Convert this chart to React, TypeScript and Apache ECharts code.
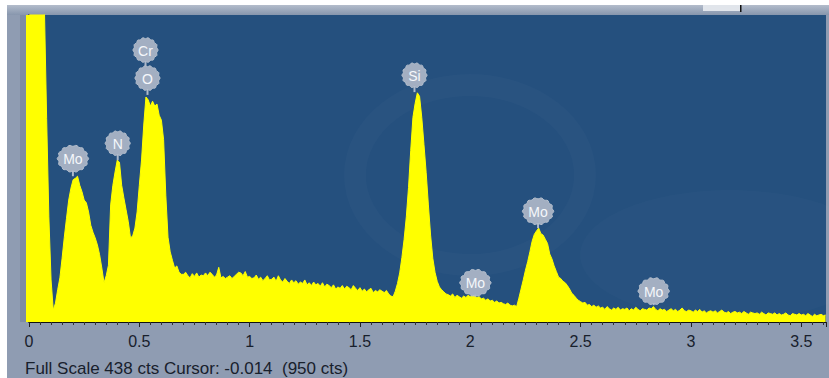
import React, { useEffect, useRef } from 'react';
import * as echarts from 'echarts';

// Spectrum: counts per 0.01 keV channel, starting at 0 keV
const energyStartKeV = 0;
const channelWidthKeV = 0.01;
const counts: number[] = [
  950, 900, 820, 700, 600, 520, 470, 445, 290, 150,
  60, 17, 27, 46, 63, 91, 121, 148, 174, 191,
  203, 205, 208, 195, 186, 174, 170, 157, 138, 128,
  120, 110, 96, 77, 56, 66, 81, 167, 195, 214,
  231, 228, 195, 177, 160, 143, 120, 123, 134, 157,
  195, 231, 281, 321, 317, 308, 315, 308, 311, 295,
  288, 260, 181, 121, 100, 88, 77, 80, 71, 68,
  68, 71, 66, 63, 69, 65, 70, 64, 67, 66,
  70, 66, 71, 68, 64, 67, 78, 63, 65, 62,
  64, 66, 62, 65, 68, 71, 70, 66, 72, 64,
  65, 62, 63, 67, 61, 64, 59, 62, 66, 60,
  61, 64, 58, 66, 60, 57, 62, 58, 55, 60,
  56, 59, 54, 57, 55, 60, 53, 56, 52, 57,
  53, 55, 51, 56, 50, 54, 52, 49, 53, 47,
  50, 48, 52, 47, 51, 49, 46, 52, 48, 45,
  49, 44, 47, 43, 46, 48, 42, 45, 43, 46,
  44, 42, 45, 40, 37, 36, 44, 55, 70, 92,
  118, 150, 192, 245, 292, 312, 327, 322, 292, 253,
  213, 167, 124, 91, 71, 58, 50, 46, 43, 40,
  39, 37, 40, 35, 38, 36, 34, 37, 35, 38,
  36, 39, 37, 35, 36, 33, 34, 31, 33, 30,
  31, 28, 30, 27, 28, 26, 25, 27, 24, 23,
  24, 22, 34, 47, 60, 74, 86, 100, 115, 125,
  130, 134, 126, 124, 118, 112, 97, 90, 80, 72,
  64, 62, 58, 56, 52, 47, 41, 38, 34, 31,
  29, 27, 28, 24, 25, 22, 24, 21, 23, 20,
  21, 18, 22, 19, 17, 20, 18, 21, 17, 19,
  18, 20, 16, 19, 17, 21, 18, 16, 19, 18,
  17, 20, 19, 22, 18, 16, 19, 17, 18, 15,
  17, 19, 16, 18, 15, 17, 20, 16, 15, 17,
  16, 14, 17, 15, 18, 14, 16, 13, 15, 16,
  14, 16, 13, 15, 17, 14, 13, 15, 12, 14,
  15, 13, 14, 12, 15, 13, 11, 14, 13, 12,
  13, 11, 14, 12, 10, 13, 12, 11, 13, 10,
  12, 10, 11, 13, 10, 9, 12, 11, 10, 12,
  10, 11, 9, 12, 10, 8, 11, 9, 10, 11,
  9, 10,
];

const fullScaleCts = 438;
const axisMaxKeV = 3.612;
const xTickLabels = ['0', '0.5', '1', '1.5', '2', '2.5', '3', '3.5'];

// Peak identification labels
const peakNames = ['Mo', 'N', 'Cr', 'O', 'Si', 'Mo', 'Mo', 'Mo'];
const peakEnergies = [0.199, 0.402, 0.528, 0.537, 1.747, 2.023, 2.307, 2.831];
const peakTopCounts = [208, 231, 348, 324, 328, 36, 134, 24];
const bubbleCounts = [233, 255, 388, 348, 352, 56, 158, 44];

const statusText = 'Full Scale 438 cts Cursor: -0.014  (950 cts)';

const FONT = '"Liberation Sans", Arial, sans-serif';

function scallop(cx: number, cy: number, rx: number, ry: number): number[][] {
  const pts: number[][] = [];
  const n = 72;
  for (let i = 0; i < n; i++) {
    const t = (i / n) * Math.PI * 2;
    const k = 1 + 0.05 * Math.cos(14 * t);
    pts.push([cx + rx * k * Math.cos(t), cy + ry * k * Math.sin(t)]);
  }
  return pts;
}

export default function App() {
  const ref = useRef<HTMLDivElement>(null);

  useEffect(() => {
    document.body.style.margin = '0';
    if (!ref.current) return;
    const chart = echarts.init(ref.current, null, { renderer: 'svg' });

    const spectrum = counts.map((c, i) => [
      +(energyStartKeV + i * channelWidthKeV).toFixed(2),
      c,
    ]);
    const labelData = peakNames.map((_, i) => [peakEnergies[i], peakTopCounts[i], bubbleCounts[i]]);

    chart.setOption({
      animation: false,
      backgroundColor: '#ffffff',
      grid: {
        left: 29,
        right: 0,
        top: 15,
        bottom: 56,
        show: true,
        backgroundColor: '#25507e',
        borderWidth: 0,
      },
      xAxis: {
        type: 'value',
        min: 0,
        max: axisMaxKeV,
        interval: 0.5,
        axisLine: { show: true, onZero: false, lineStyle: { color: '#111111', width: 1 } },
        axisTick: { show: true, length: 5, lineStyle: { color: '#222222', width: 1 } },
        minorTick: { show: true, splitNumber: 10, length: 3, lineStyle: { color: '#333333', width: 1 } },
        splitLine: { show: false },
        axisLabel: {
          margin: 11,
          color: '#18202c',
          fontFamily: FONT,
          fontSize: 16,
          formatter: (v: number) => {
            const s = String(+v.toFixed(3));
            return xTickLabels.includes(s) ? s : '';
          },
        },
      },
      yAxis: {
        type: 'value',
        min: 0,
        max: fullScaleCts,
        axisLine: { show: true, onZero: false, lineStyle: { color: '#0a0a0a', width: 1.5 } },
        axisTick: { show: false },
        axisLabel: { show: false },
        splitLine: { show: false },
      },
      graphic: [
        { type: 'rect', z: -5, shape: { x: 7, y: 5, width: 822, height: 373 }, style: { fill: '#8f9cb2' } },
        {
          type: 'rect', z: -4, shape: { x: 7, y: 5, width: 822, height: 10 },
          style: {
            fill: new echarts.graphic.LinearGradient(0, 0, 0, 1, [
              { offset: 0, color: '#b3bccb' },
              { offset: 1, color: '#8796ad' },
            ]),
          },
        },
        { type: 'rect', z: -4, shape: { x: 20, y: 15, width: 6, height: 307 }, style: { fill: '#7e8ca4' } },
        { type: 'rect', z: -4, shape: { x: 703, y: 5, width: 37, height: 6 }, style: { fill: '#e1e5eb' } },
        { type: 'rect', z: -4, shape: { x: 740, y: 5, width: 1.5, height: 7 }, style: { fill: '#111111' } },
        // very faint watermark in the plot background
        {
          type: 'ellipse', z: 1, shape: { cx: 470, cy: 175, rx: 115, ry: 90 },
          style: { fill: 'none', stroke: 'rgba(255,255,255,0.018)', lineWidth: 22 },
        },
        {
          type: 'ellipse', z: 1, shape: { cx: 730, cy: 255, rx: 150, ry: 65 },
          style: { fill: 'rgba(255,255,255,0.015)' },
        },
        { type: 'rect', z: 1, shape: { x: 26, y: 15, width: 3, height: 307 }, style: { fill: '#ffff00' } },
        {
          type: 'text', z: 5, x: 25, y: 368,
          style: { text: statusText, fill: '#18202c', font: `17px ${FONT}`, verticalAlign: 'middle', align: 'left' },
        },
      ],
      series: [
        {
          type: 'line',
          data: spectrum,
          symbol: 'none',
          clip: true,
          z: 2,
          lineStyle: { color: '#ffff00', width: 1 },
          areaStyle: { color: '#ffff00', opacity: 1 },
        },
        {
          type: 'custom',
          z: 4,
          data: labelData,
          renderItem: (params: any, api: any) => {
            const i = params.dataIndex;
            const name = peakNames[i];
            const p = api.coord([api.value(0), api.value(1)]);
            const b = api.coord([api.value(0), api.value(2)]);
            const rx = name === 'Mo' ? 15 : 12;
            const ry = name === 'Mo' ? 13 : 12;
            return {
              type: 'group',
              children: [
                {
                  type: 'line',
                  shape: { x1: b[0], y1: b[1], x2: p[0], y2: p[1] },
                  style: { stroke: '#aeb9ca', lineWidth: 2 },
                },
                {
                  type: 'polygon',
                  shape: { points: scallop(b[0], b[1], rx, ry) },
                  style: { fill: '#a3afc2', stroke: '#b6c0ce', lineWidth: 1 },
                },
                {
                  type: 'text',
                  x: b[0],
                  y: b[1] + 0.5,
                  style: {
                    text: name,
                    fill: '#f5f7fb',
                    font: `14px ${FONT}`,
                    align: 'center',
                    verticalAlign: 'middle',
                  },
                },
              ],
            };
          },
        },
      ],
    });

    return () => chart.dispose();
  }, []);

  return (
    <div
      ref={ref}
      style={{ position: 'fixed', left: 0, top: 0, width: 829, height: 378 }}
    />
  );
}
